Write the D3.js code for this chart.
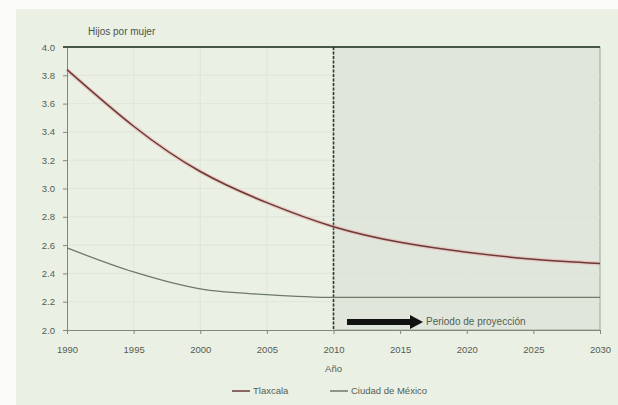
<!DOCTYPE html>
<html>
<head>
<meta charset="utf-8">
<script src="https://cdn.jsdelivr.net/npm/d3@7"></script>
<style>
  body { margin: 0; background: #fbfcfa; }
  svg { display: block; font-family: "Liberation Sans", Arial, sans-serif; }
</style>
</head>
<body>
<svg width="618" height="405"></svg>
<script>
// years
var years = [1990, 1995, 2000, 2005, 2010, 2015, 2020, 2025, 2030];
// Tlaxcala, hijos por mujer
var tlaxcala = [3.84, 3.44, 3.12, 2.90, 2.73, 2.62, 2.55, 2.50, 2.47];
// Ciudad de Mexico
var cdmx = [2.58, 2.41, 2.29, 2.25, 2.23, 2.23, 2.23, 2.23, 2.23];
var yTicks = [2.0, 2.2, 2.4, 2.6, 2.8, 3.0, 3.2, 3.4, 3.6, 3.8, 4.0];
var seriesNames = ["Tlaxcala", "Ciudad de México"];
var projStart = 2010;

var svg = d3.select("svg");

// pale green backdrop
svg.append("rect")
    .attr("x", 16).attr("y", 9)
    .attr("width", 602).attr("height", 396)
    .attr("fill", "#eaf0e4");

var x = d3.scaleLinear().domain([1990, 2030]).range([67, 600]);
var y = d3.scaleLinear().domain([2.0, 4.0]).range([330, 47]);

// projection period shading
svg.append("rect")
    .attr("x", x(projStart)).attr("y", y(4.0))
    .attr("width", x(2030) - x(projStart))
    .attr("height", y(2.0) - y(4.0))
    .attr("fill", "#e1e6dc")
    .attr("stroke", "#9aa596");

// grid
svg.append("g").selectAll("line")
    .data(yTicks.slice(1))
    .enter().append("line")
    .attr("x1", x(1990)).attr("x2", x(2030))
    .attr("y1", function(d) { return y(d); })
    .attr("y2", function(d) { return y(d); })
    .attr("stroke", "#dbe4d6").attr("stroke-width", 0.8);
svg.append("g").selectAll("line")
    .data(years.slice(1, -1))
    .enter().append("line")
    .attr("x1", function(d) { return x(d); })
    .attr("x2", function(d) { return x(d); })
    .attr("y1", y(4.0)).attr("y2", y(2.0))
    .attr("stroke", "#dbe4d6").attr("stroke-width", 0.8);

// axes
var yAxis = d3.axisLeft(y).tickValues(yTicks).tickSize(4).tickPadding(8)
    .tickFormat(d3.format(".1f"));
var gy = svg.append("g").attr("transform", "translate(" + x(1990) + ",0)").call(yAxis);
var xAxis = d3.axisBottom(x).tickValues(years).tickSize(4).tickPadding(9)
    .tickFormat(d3.format("d"));
var gx = svg.append("g").attr("transform", "translate(0," + y(2.0) + ")").call(xAxis);
[gx, gy].forEach(function(g) {
    g.select(".domain").attr("stroke", "#7d8a79");
    g.selectAll(".tick line").attr("stroke", "#7d8a79");
    g.selectAll("text").attr("fill", "#555d52").style("font-size", "9.5px");
});
gx.selectAll("text").attr("dy", "1.1em");

// heavy top rule
svg.append("line")
    .attr("x1", 63).attr("x2", x(2030))
    .attr("y1", y(4.0)).attr("y2", y(4.0))
    .attr("stroke", "#485846").attr("stroke-width", 2);

// divider at start of projection
svg.append("line")
    .attr("x1", x(projStart)).attr("x2", x(projStart))
    .attr("y1", y(4.0)).attr("y2", y(2.0))
    .attr("stroke", "#2f3a2e").attr("stroke-width", 1.6)
    .attr("stroke-dasharray", "3,1.5");

// lines
var line = d3.line()
    .x(function(d) { return x(d[0]); })
    .y(function(d) { return y(d[1]); })
    .curve(d3.curveNatural);

svg.append("path")
    .datum(d3.zip(years, tlaxcala))
    .attr("d", line)
    .attr("fill", "none")
    .attr("stroke", "#e8b4b0").attr("stroke-width", 4).attr("opacity", 0.6);
svg.append("path")
    .datum(d3.zip(years, tlaxcala))
    .attr("d", line)
    .attr("fill", "none")
    .attr("stroke", "#6b3a36").attr("stroke-width", 1.5);
svg.append("path")
    .datum(d3.zip(years, cdmx))
    .attr("d", line.curve(d3.curveMonotoneX))
    .attr("fill", "none")
    .attr("stroke", "#6c7a68").attr("stroke-width", 1.3);

// arrow label
svg.append("line")
    .attr("x1", 347).attr("x2", 412)
    .attr("y1", 322).attr("y2", 322)
    .attr("stroke", "#111").attr("stroke-width", 6);
svg.append("path")
    .attr("d", "M410,315 L423,322 L410,329 Z")
    .attr("fill", "#111");
svg.append("text")
    .attr("x", 426).attr("y", 325)
    .attr("fill", "#555d52").style("font-size", "10px")
    .text("Periodo de proyección");

// titles
svg.append("text")
    .attr("x", 88).attr("y", 35)
    .attr("fill", "#4d5549").style("font-size", "10px")
    .text("Hijos por mujer");
svg.append("text")
    .attr("x", x(2010)).attr("y", 372)
    .attr("text-anchor", "middle")
    .attr("fill", "#555d52").style("font-size", "9.5px")
    .text("Año");

// legend
var legend = svg.append("g").attr("transform", "translate(232,394)");
var legColors = ["#6b3a36", "#6c7a68"];
var legX = [0, 98];
seriesNames.forEach(function(name, i) {
    legend.append("line")
        .attr("x1", legX[i]).attr("x2", legX[i] + 18)
        .attr("y1", -3).attr("y2", -3)
        .attr("stroke", legColors[i]).attr("stroke-width", 1.5);
    legend.append("text")
        .attr("x", legX[i] + 21).attr("y", 0)
        .attr("fill", "#555d52").style("font-size", "9.5px")
        .text(name);
});
</script>
</body>
</html>
